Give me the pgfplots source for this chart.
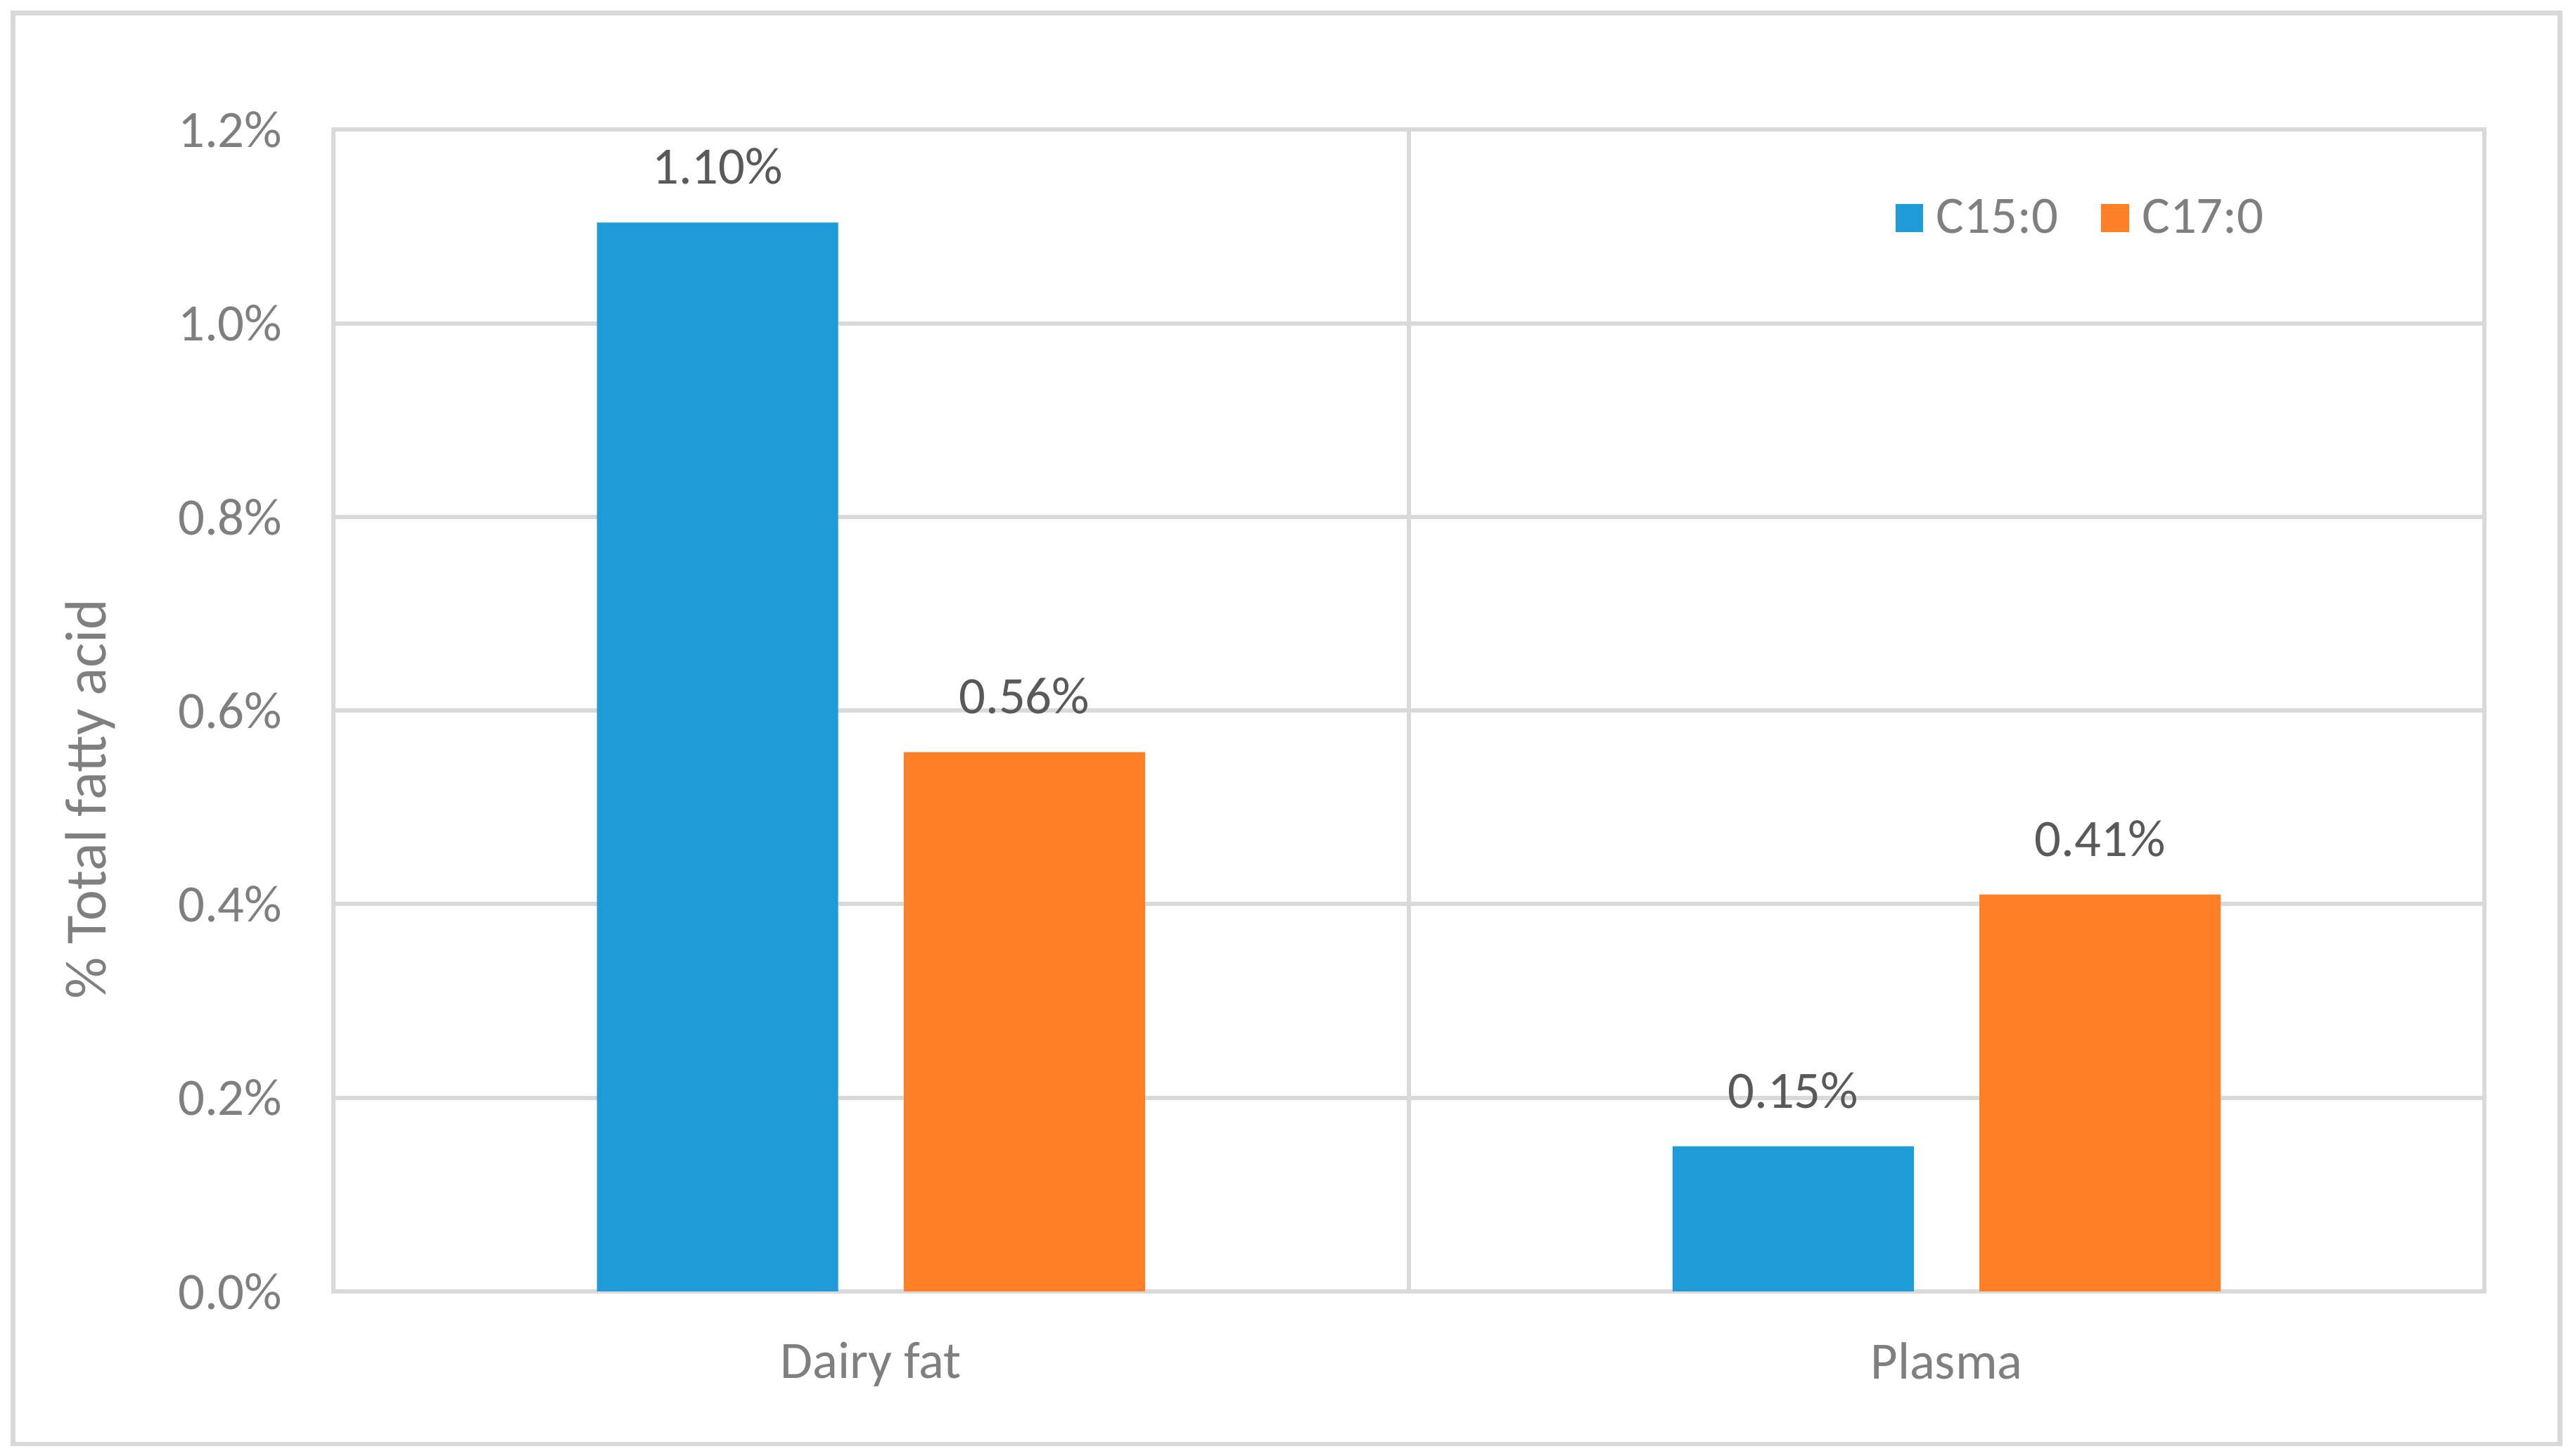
\documentclass[border=0pt]{standalone}
\usepackage{pgfplots}
\pgfplotsset{compat=1.18}
\usepackage{fontspec}
\setmainfont{Carlito}
\definecolor{cblue}{HTML}{1F9BD8}
\definecolor{corange}{HTML}{FF7F27}
\definecolor{gridgray}{HTML}{D9D9D9}
\definecolor{ticktext}{HTML}{7F7F7F}
\definecolor{labeltext}{HTML}{595959}
\begin{document}
\begin{tikzpicture}
\useasboundingbox (0,0) rectangle (784pt,443.5pt);
\draw[gridgray, line width=1.4pt] (4pt,3.5pt) rectangle (780pt,439.5pt);
\begin{axis}[
  at={(101.5pt,50pt)}, anchor=south west,
  width=655.5pt, height=354pt, scale only axis,
  ybar=20pt, bar width=73.5pt,
  xmin=-0.5, xmax=1.5, ymin=0, ymax=1.2,
  xtick={0,1}, xticklabels={Dairy fat, Plasma},
  extra x ticks={0.5}, extra x tick labels={},
  extra x tick style={grid=major},
  ytick={0,0.2,0.4,0.6,0.8,1.0,1.2},
  yticklabel={\pgfmathprintnumber[fixed,fixed zerofill,precision=1]{\tick}\%},
  scaled y ticks=false,
  ymajorgrids,
  grid style={gridgray, line width=1.3pt},
  axis line style={gridgray, line width=1.3pt},
  major tick length=0pt,
  /pgf/number format/assume math mode=true,
  tick label style={font=\fontsize{16}{19}\selectfont, text=ticktext},
  yticklabel style={xshift=-12pt},
  xticklabel style={yshift=-12pt},
  ylabel={\% Total fatty acid},
  every axis y label/.style={at={(axis description cs:-0.1129,0.4237)}, rotate=90, anchor=center, font=\fontsize{17.8}{21}\selectfont, text=ticktext},
  nodes near coords={\pgfmathprintnumber[fixed,fixed zerofill,precision=2]{\pgfplotspointmeta}\%},
  every node near coord/.append style={font=\fontsize{16}{19}\selectfont, text=labeltext, anchor=south, yshift=8pt},
  legend image code/.code={\fill[#1] (0pt,-4.25pt) rectangle (8.5pt,4.25pt); \path (10.5pt,0pt);},
  legend columns=2,
  legend style={draw=none, fill=none, at={(axis description cs:0.7262,0.9237)}, anchor=west, inner sep=0pt, outer sep=0pt,
    font=\fontsize{16}{19}\selectfont, text=ticktext,
    /tikz/every even column/.append style={column sep=11pt}},
]
\addplot[draw=none, fill=cblue] coordinates {(0,1.104) (1,0.15)};
\addlegendentry{C15:0}
\addplot[draw=none, fill=corange] coordinates {(0,0.557) (1,0.41)};
\addlegendentry{C17:0}
\end{axis}
\end{tikzpicture}
\end{document}
